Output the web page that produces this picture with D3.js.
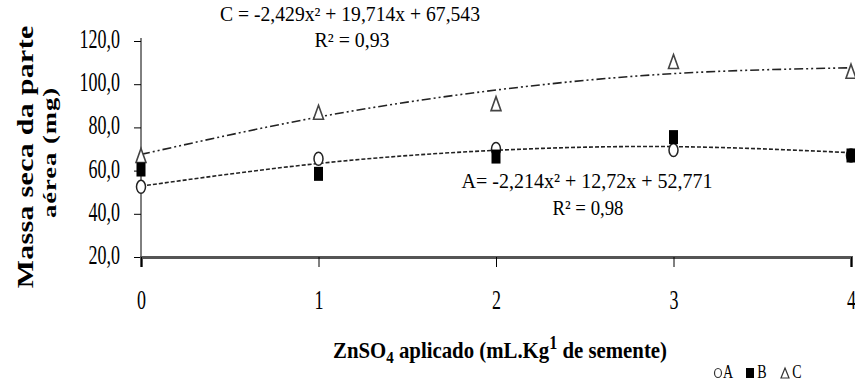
<!DOCTYPE html>
<html>
<head>
<meta charset="utf-8">
<script src="https://cdn.jsdelivr.net/npm/d3@7"></script>
<style>
  body { margin: 0; background: #fff; }
  svg { display: block; }
  text { font-family: "Liberation Serif", "Times New Roman", serif; fill: #000; }
</style>
</head>
<body>
<svg id="chart" width="855" height="385"></svg>
<script>
// DATA
var doses = [0, 1, 2, 3, 4];
var serieA = [52.5, 65.5, 70.0, 69.5, 67.0];   // circles
var serieB = [60.5, 58.5, 66.5, 75.5, 67.0];   // squares
var serieC = [67.0, 87.0, 91.0, 110.5, 106.0]; // triangles
// trend lines at each dose
var trendA = [52.8, 63.3, 69.4, 71.1, 68.3];
var trendC = [67.5, 84.8, 97.3, 104.9, 107.6];
var yTicks = [20, 40, 60, 80, 100, 120];
var xTicks = [0, 1, 2, 3, 4];
var eqC = "C = -2,429x² + 19,714x + 67,543";
var r2C = "R² = 0,93";
var eqA = "A= -2,214x² + 12,72x + 52,771";
var r2A = "R² = 0,98";

// GEOMETRY
var svg = d3.select("#chart");
var x = d3.scaleLinear().domain([0, 4]).range([141, 851]);
var y = d3.scaleLinear().domain([20, 120]).range([257, 41]);
var stretch = 1.5; // the original picture is squashed horizontally

var fmt = function(v) { return d3.format(".1f")(v).replace(".", ","); };

// axes
var yAxis = d3.axisLeft(y).tickValues(yTicks).tickSize(7).tickFormat(fmt);
var yg = svg.append("g").attr("transform", "translate(" + x(0) + ",0)").call(yAxis);
yg.attr("font-family", null);
yg.select(".domain").attr("d", "M0," + (y(120) - 3) + "V" + (y(20) + 10)).attr("stroke", "#000");
yg.selectAll(".tick line").attr("stroke", "#000");
yg.selectAll(".tick text")
  .attr("x", 0).attr("dy", 0)
  .attr("transform", "translate(-21,6.5) scale(1," + stretch + ")")
  .style("font-size", "18px");

var xAxis = d3.axisBottom(x).tickValues(xTicks).tickSize(10).tickFormat(d3.format("d"));
var xg = svg.append("g").attr("transform", "translate(0," + y(20) + ")").call(xAxis);
xg.attr("font-family", null);
xg.select(".domain").attr("stroke", "#555").attr("stroke-width", 3);
xg.selectAll(".tick line").attr("stroke", "#000");
xg.selectAll(".tick text")
  .attr("y", 0).attr("dy", 0)
  .attr("transform", "translate(0,52) scale(1," + stretch + ")")
  .style("font-size", "18px");

// trend lines
var line = d3.line()
  .x(function(d, i) { return x(doses[i]); })
  .y(function(d) { return y(d); })
  .curve(d3.curveNatural);

svg.append("path").datum(trendC)
  .attr("d", line).attr("fill", "none")
  .attr("stroke", "#222").attr("stroke-width", 1.6)
  .attr("stroke-dasharray", "9,3,2,3,2,3");
svg.append("path").datum(trendA)
  .attr("d", line).attr("fill", "none")
  .attr("stroke", "#222").attr("stroke-width", 1.6)
  .attr("stroke-dasharray", "4,2");

// markers
svg.selectAll(".ptC").data(serieC).enter().append("path")
  .attr("class", "ptC")
  .attr("d", "M0,-7L5,7L-5,7Z")
  .attr("transform", function(d, i) { return "translate(" + x(doses[i]) + "," + y(d) + ")"; })
  .attr("fill", "#fff").attr("stroke", "#444").attr("stroke-width", 1.6);

svg.selectAll(".ptA").data(serieA).enter().append("ellipse")
  .attr("class", "ptA")
  .attr("cx", function(d, i) { return x(doses[i]); })
  .attr("cy", function(d) { return y(d); })
  .attr("rx", 4.5).attr("ry", 6.5)
  .attr("fill", "#fff").attr("stroke", "#222").attr("stroke-width", 1.5);

svg.selectAll(".ptB").data(serieB).enter().append("rect")
  .attr("class", "ptB")
  .attr("x", function(d, i) { return x(doses[i]) - 4.5; })
  .attr("y", function(d) { return y(d) - 7; })
  .attr("width", 9).attr("height", 14)
  .attr("fill", "#000");

// text helper: places stretched text
var label = function(txt, cx, base, size, width, weight) {
  var g = svg.append("g").attr("transform", "translate(" + cx + "," + base + ") scale(1,1.2)");
  var t = g.append("text")
    .attr("text-anchor", "middle")
    .style("font-size", size + "px")
    .style("font-weight", weight || "normal")
    .text(txt);
  if (width) t.attr("textLength", width).attr("lengthAdjust", "spacingAndGlyphs");
  return t;
};

label(eqC, 350, 21, 17, 260);
label(r2C, 352, 47, 17, 75);
label(eqA, 587, 188, 18, 251);
label(r2A, 588, 215, 18, 71);

// y title (stretched along the text direction)
svg.append("text")
  .attr("transform", "translate(33,157) rotate(-90) scale(1.3,1)")
  .attr("text-anchor", "middle")
  .style("font-size", "23px").style("font-weight", "bold")
  .attr("textLength", 202).attr("lengthAdjust", "spacing")
  .text("Massa seca da parte");
svg.append("text")
  .attr("transform", "translate(56,153) rotate(-90) scale(1.4,1)")
  .attr("text-anchor", "middle")
  .style("font-size", "19px").style("font-weight", "bold")
  .attr("textLength", 93).attr("lengthAdjust", "spacing")
  .text("aérea (mg)");

// x title
var xt = svg.append("g").attr("transform", "translate(500,358) scale(1,1.3)")
  .append("text").attr("text-anchor", "middle")
  .style("font-size", "18px").style("font-weight", "bold")
  .attr("textLength", 334).attr("lengthAdjust", "spacingAndGlyphs");
xt.append("tspan").text("ZnSO");
xt.append("tspan").attr("dy", 4).style("font-size", "13px").text("4");
xt.append("tspan").attr("dy", -4).text(" aplicado (mL.Kg");
xt.append("tspan").attr("dy", -7).style("font-size", "14px").text("1");
xt.append("tspan").attr("dy", 7).text(" de semente)");

// legend
var lg = svg.append("g");
lg.append("ellipse").attr("cx", 718).attr("cy", 373).attr("rx", 3.5).attr("ry", 4.5)
  .attr("fill", "#fff").attr("stroke", "#333").attr("stroke-width", 1.2);
lg.append("rect").attr("x", 746).attr("y", 368).attr("width", 8).attr("height", 10).attr("fill", "#000");
lg.append("path").attr("d", "M785,368L789,378L781,378Z")
  .attr("fill", "#fff").attr("stroke", "#333").attr("stroke-width", 1.2);
[["A", 728], ["B", 762], ["C", 797]].forEach(function(p) {
  lg.append("g").attr("transform", "translate(" + p[1] + ",378) scale(1,1.3)")
    .append("text").attr("text-anchor", "middle").style("font-size", "14px").text(p[0]);
});
</script>
</body>
</html>
